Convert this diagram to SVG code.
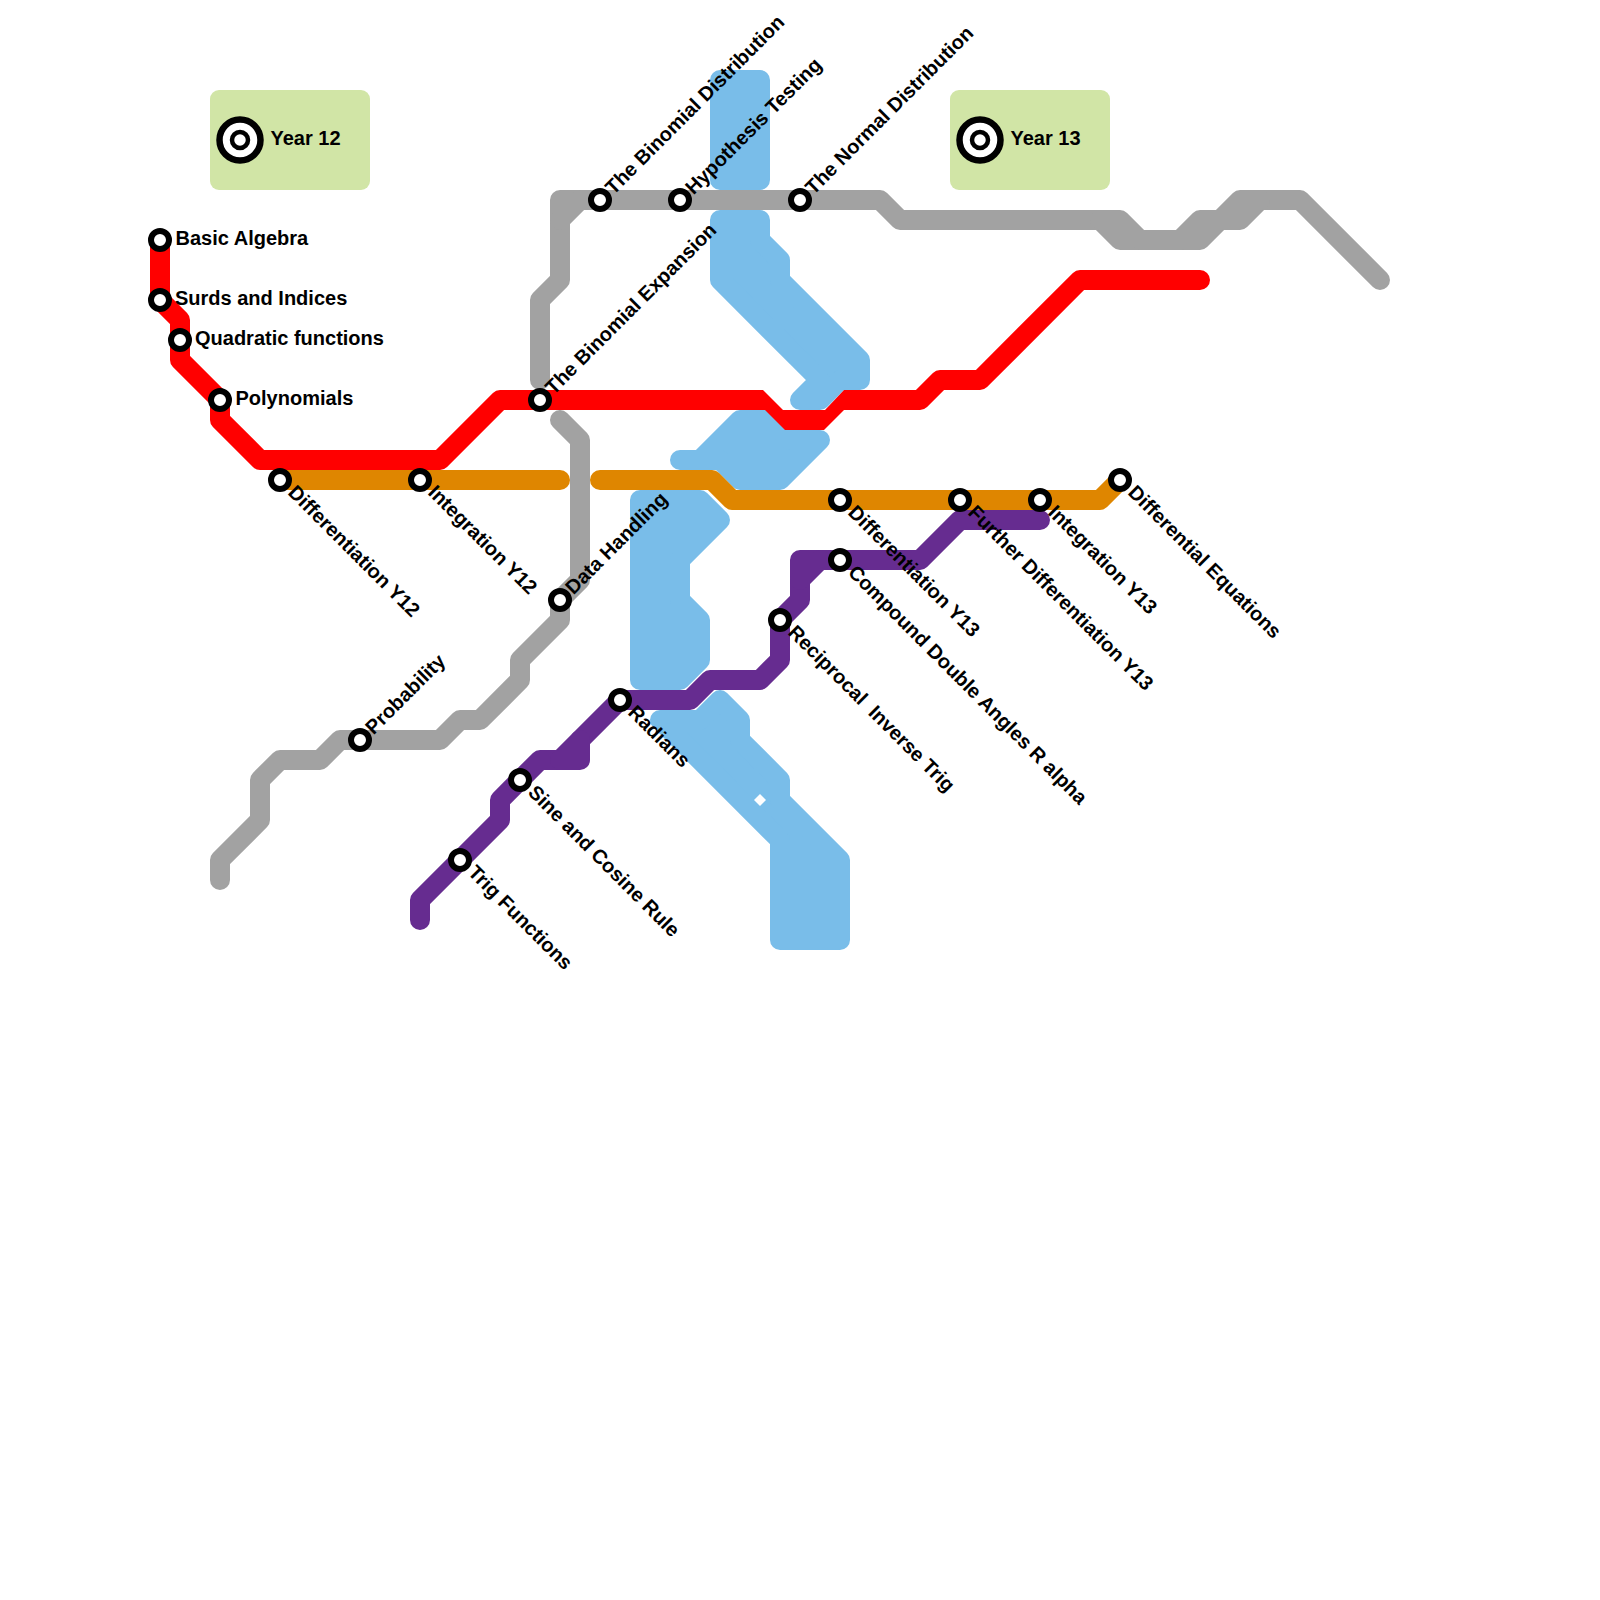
<svg xmlns="http://www.w3.org/2000/svg" width="1600" height="1600" viewBox="0 0 1600 1600">
<style>
.l{fill:none;stroke-width:20;stroke-linejoin:round;stroke-linecap:round}
.b{fill:#79bde9;stroke:#79bde9;stroke-width:20;stroke-linejoin:round}
.g{stroke:#a2a2a2}.r{stroke:#ff0000}.o{stroke:#df8600}.p{stroke:#662c90}
.s{fill:#fff;stroke:#000;stroke-width:6}
text{font-family:"Liberation Sans",Arial,sans-serif;font-weight:700;font-size:20px;fill:#000;white-space:pre}
.zone{fill:#d1e5a6}
</style>
<g id="zones">
<rect class="zone" x="210" y="90" width="160" height="100" rx="9"/>
<rect class="zone" x="950" y="90" width="160" height="100" rx="9"/>
</g>
<g id="connectors">
<g id="line-blue">
<polygon class="b" points="720,80 760,80 760,180 720,180"/>
<polygon class="b" points="720,220 760,220 760,240 780,260 780,280 860,360 860,380 840,380 820,400 800,400 820,380 720,280"/>
<polygon class="b" points="680,460 700,460 740,420 770,420 790,440 820,440 780,480 740,480 720,460"/>
<polygon class="b" points="640,500 700,500 720,520 680,560 680,600 700,620 700,660 680,680 640,680"/>
<polygon class="b" points="660,720 700,720 720,700 740,720 740,740 780,780 780,800 840,860 840,940 780,940 780,840"/>
<polygon points="760,794 766,800 760,806 754,800" fill="#fff"/>
</g>
<g id="line-grey">
<path class="l g" d="M220 880V860L260 820V780L280 760H320L340 740H440L460 720H480L520 680V660L560 620V600L580 580V440L560 420"/>
<path class="l g" d="M540 380V300L560 280V200H880L900 220H1100L1120 240H1200L1220 220H1240L1260 200H1300L1380 280"/>
<path class="l g" d="M560 220L580 200"/>
<path class="l g" d="M1100 220H1120L1140 240H1180L1200 220H1220L1240 200H1260"/>
</g>
<g id="line-orange">
<path class="l o" d="M280 480H560"/>
<path class="l o" d="M600 480H712L732 500H1100L1120 480"/>
</g>
<g id="line-purple">
<path class="l p" d="M420 920V900L500 820V800L540 760H560L620 700H690L710 680H760L780 660V620L800 600V560H920L960 520H1040"/>
<path class="l p" d="M560 760H580V740"/>
<path class="l p" d="M800 580L820 560"/>
</g>
<g id="line-red">
<path class="l r" d="M160 240V300L180 320V360L220 400V420L260 460H440L500 400H755"/>
<polygon fill="#ff0000" points="755,390 763,390 783,410 825,410 844,390 850,390 850,410 844,410 824,430 785,430 765,410 755,410"/>
<path class="l r" d="M850 400H920L940 380H980L1080 280H1200"/>
</g>
</g>
<g id="legend-year12">
<circle cx="240" cy="140" r="20.5" fill="#fff" stroke="#000" stroke-width="6.5"/>
<circle cx="240" cy="140" r="8" fill="#fff" stroke="#000" stroke-width="4.5"/>
<text x="270.500" y="145">Year 12</text>
</g>
<g id="legend-year13">
<circle cx="980" cy="140" r="20.5" fill="#fff" stroke="#000" stroke-width="6.5"/>
<circle cx="980" cy="140" r="8" fill="#fff" stroke="#000" stroke-width="4.5"/>
<text x="1010.500" y="145">Year 13</text>
</g>
<g id="n-basic-algebra"><circle class="s" cx="160" cy="240" r="9"/><text x="175.500" y="245">Basic Algebra</text></g>
<g id="n-surds"><circle class="s" cx="160" cy="300" r="9"/><text x="175" y="305">Surds and Indices</text></g>
<g id="n-quadratic"><circle class="s" cx="180" cy="340" r="9"/><text x="195" y="345">Quadratic functions</text></g>
<g id="n-polynomials"><circle class="s" cx="220" cy="400" r="9"/><text x="235.500" y="405">Polynomials</text></g>
<g id="n-diff-y12"><circle class="s" cx="280" cy="480" r="9"/><text transform="translate(287 493.500) rotate(45)">Differentiation Y12</text></g>
<g id="n-int-y12"><circle class="s" cx="420" cy="480" r="9"/><text transform="translate(427 493.500) rotate(45)">Integration Y12</text></g>
<g id="n-probability"><circle class="s" cx="360" cy="740" r="9"/><text transform="translate(373.500 735.500) rotate(-45)">Probability</text></g>
<g id="n-binomial-exp"><circle class="s" cx="540" cy="400" r="9"/><text transform="translate(553.500 395.500) rotate(-45)">The Binomial Expansion</text></g>
<g id="n-data"><circle class="s" cx="560" cy="600" r="9"/><text transform="translate(573.500 595.500) rotate(-45)">Data Handling</text></g>
<g id="n-binomial-dist"><circle class="s" cx="600" cy="200" r="9"/><text transform="translate(613.500 195.500) rotate(-45)">The Binomial Distribution</text></g>
<g id="n-hypothesis"><circle class="s" cx="680" cy="200" r="9"/><text transform="translate(693.500 195.500) rotate(-45)">Hypothesis Testing</text></g>
<g id="n-normal"><circle class="s" cx="800" cy="200" r="9"/><text transform="translate(813.500 195.500) rotate(-45)">The Normal Distribution</text></g>
<g id="n-trig"><circle class="s" cx="460" cy="860" r="9"/><text transform="translate(467 873.500) rotate(45)">Trig Functions</text></g>
<g id="n-sine"><circle class="s" cx="520" cy="780" r="9"/><text transform="translate(527 793.500) rotate(45)">Sine and Cosine Rule</text></g>
<g id="n-radians"><circle class="s" cx="620" cy="700" r="9"/><text transform="translate(627 713.500) rotate(45)">Radians</text></g>
<g id="n-reciprocal"><circle class="s" cx="780" cy="620" r="9"/><text transform="translate(787 633.500) rotate(45)">Reciprocal  Inverse Trig</text></g>
<g id="n-compound"><circle class="s" cx="840" cy="560" r="9"/><text transform="translate(847 573.500) rotate(45)">Compound Double Angles R alpha</text></g>
<g id="n-diff-y13"><circle class="s" cx="840" cy="500" r="9"/><text transform="translate(847 513.500) rotate(45)">Differentiation Y13</text></g>
<g id="n-further"><circle class="s" cx="960" cy="500" r="9"/><text transform="translate(967 513.500) rotate(45)">Further Differentiation Y13</text></g>
<g id="n-int-y13"><circle class="s" cx="1040" cy="500" r="9"/><text transform="translate(1047 513.500) rotate(45)">Integration Y13</text></g>
<g id="n-diff-eq"><circle class="s" cx="1120" cy="480" r="9"/><text transform="translate(1127 493.500) rotate(45)">Differential Equations</text></g>
</svg>
